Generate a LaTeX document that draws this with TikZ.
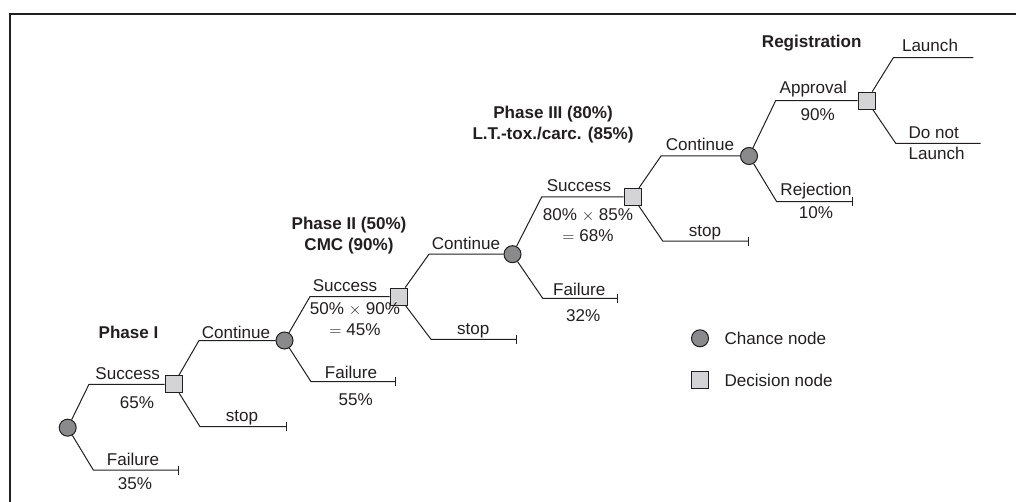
\documentclass[tikz,border=0pt]{standalone}
\usepackage{fontspec}
\setmainfont{Liberation Sans}
\usetikzlibrary{arrows.meta}
\definecolor{ink}{HTML}{231F20}
\definecolor{chancefill}{HTML}{8A8A8C}
\definecolor{decfill}{HTML}{D4D4D6}
\tikzset{
  chance/.style={circle,draw=ink,fill=chancefill,line width=0.75pt,minimum size=12.75pt,inner sep=0pt},
  decision/.style={rectangle,draw=ink,fill=decfill,line width=0.75pt,minimum size=12.75pt,inner sep=0pt},
  branch/.style={draw=ink,line width=0.75pt},
  term/.style={-{Bar[width=6.75pt,line width=0.75pt]}},
  lbl/.style={inner sep=0pt,anchor=base,text=ink,font=\fontsize{12.8pt}{15.5pt}\selectfont},
  lblc/.style={inner sep=0pt,anchor=center,align=center,text=ink,font=\fontsize{12.8pt}{15.5pt}\selectfont},
  head/.style={inner sep=0pt,anchor=center,align=center,text=ink,font=\fontsize{12.8pt}{15.5pt}\selectfont\bfseries},
}
\begin{document}
\begin{tikzpicture}[x=0.75pt,y=-0.75pt]
\useasboundingbox (0,0) rectangle (1016,502);
% frame
\draw[ink,line width=1.5pt] (9.7,503) -- (9.7,14) -- (1017,14);

% nodes
\node[chance]   (c1) at (67.7,427.7) {};
\node[decision] (d1) at (173.7,384.3) {};
\node[chance]   (c2) at (284.5,340.5) {};
\node[decision] (d2) at (398.7,296.6) {};
\node[chance]   (c3) at (512.5,254.2) {};
\node[decision] (d3) at (632.7,197) {};
\node[chance]   (c4) at (749,156) {};
\node[decision] (d4) at (866.7,100.6) {};

% kinks and ends
\coordinate (k1u) at (89,384.3);   \coordinate (k1d) at (93.3,470);   \coordinate (e1d) at (179.3,470);
\coordinate (k2u) at (199,340.5);  \coordinate (k2d) at (200,426.7);  \coordinate (e2d) at (286.7,426.7);
\coordinate (k3u) at (310,296.6);  \coordinate (k3d) at (311,381.7);  \coordinate (e3d) at (396,381.7);
\coordinate (k4u) at (429,254.2);  \coordinate (k4d) at (431,339.3);  \coordinate (e4d) at (517.3,339.3);
\coordinate (k5u) at (541.7,197);  \coordinate (k5d) at (542.7,298.3);\coordinate (e5d) at (618.3,298.3);
\coordinate (k6u) at (661,156);    \coordinate (k6d) at (662.7,241);  \coordinate (e6d) at (749.3,241);
\coordinate (k7u) at (775.7,100.6);\coordinate (k7d) at (776.7,201.7);\coordinate (e7d) at (852.7,201.7);
\coordinate (k8u) at (893.3,57.7); \coordinate (e8u) at (973.3,57.7);
\coordinate (k8d) at (895.7,143.3);\coordinate (e8d) at (980.7,143.3);

% connectors
\draw[branch] (c1) -- (k1u) -- (d1);
\draw[branch,term] (c1) -- (k1d) -- (e1d);
\draw[branch] (d1) -- (k2u) -- (c2);
\draw[branch,term] (d1) -- (k2d) -- (e2d);
\draw[branch] (c2) -- (k3u) -- (d2);
\draw[branch,term] (c2) -- (k3d) -- (e3d);
\draw[branch] (d2) -- (k4u) -- (c3);
\draw[branch,term] (d2) -- (k4d) -- (e4d);
\draw[branch] (c3) -- (k5u) -- (d3);
\draw[branch,term] (c3) -- (k5d) -- (e5d);
\draw[branch] (d3) -- (k6u) -- (c4);
\draw[branch,term] (d3) -- (k6d) -- (e6d);
\draw[branch] (c4) -- (k7u) -- (d4);
\draw[branch,term] (c4) -- (k7d) -- (e7d);
\draw[branch] (d4) -- (k8u) -- (e8u);
\draw[branch] (d4) -- (k8d) -- (e8d);

% headings
\node[head] (h1) at (128.5,332.3) {Phase I};
\node[head] (h2) at (349,235.5) {Phase II (50\%)\\CMC (90\%)};
\node[head] (h3) at (553,124.5) {Phase III (80\%)\\L.T.-tox./carc. (85\%)};
\node[head] (h4) at (811.7,42.7) {Registration};

% labels, phase I
\node[lbl] (l1) at (127.7,379) {Success};
\node[lbl] (l2) at (137,408) {65\%};
\node[lbl] (l3) at (133,465) {Failure};
\node[lbl] (l4) at (135,489) {35\%};
\node[lbl] (l5) at (236,338.5) {Continue};
\node[lbl] (l6) at (242,421.5) {stop};
\node[lbl] (l7) at (351,378) {Failure};
\node[lbl] (l8) at (355.7,405.3) {55\%};
% phase II
\node[lbl] (l9) at (345,291.8) {Success};
\node[lblc] (l10) at (355,319) {50\% $\times$ 90\%\\$=$ 45\%};
\node[lbl] (l11) at (466,249.5) {Continue};
\node[lbl] (l12) at (473.3,334.5) {stop};
\node[lbl] (l13) at (579.3,295) {Failure};
\node[lbl] (l14) at (583.3,321) {32\%};
% phase III
\node[lbl] (l15) at (579,191.8) {Success};
\node[lblc] (l16) at (588,225) {80\% $\times$ 85\%\\$=$ 68\%};
\node[lbl] (l17) at (700,151) {Continue};
\node[lbl] (l18) at (705,236) {stop};
% registration
\node[lbl] (l19) at (813.3,93.4) {Approval};
\node[lbl] (l20) at (817.7,121) {90\%};
\node[lbl] (l21) at (816,196) {Rejection};
\node[lbl] (l22) at (816,219) {10\%};
\node[lbl] (l23) at (930,51.8) {Launch};
\node[lblc,anchor=west,align=left] (l24) at (908.3,143) {Do not\\Launch};

% legend
\node[chance]   (lc) at (700,338.3) {};
\node[decision] (ld) at (700,380) {};
\node[lblc,anchor=west] (lct) at (724.3,338.3) {Chance node};
\node[lblc,anchor=west] (ldt) at (724.3,380) {Decision node};
\end{tikzpicture}
\end{document}
